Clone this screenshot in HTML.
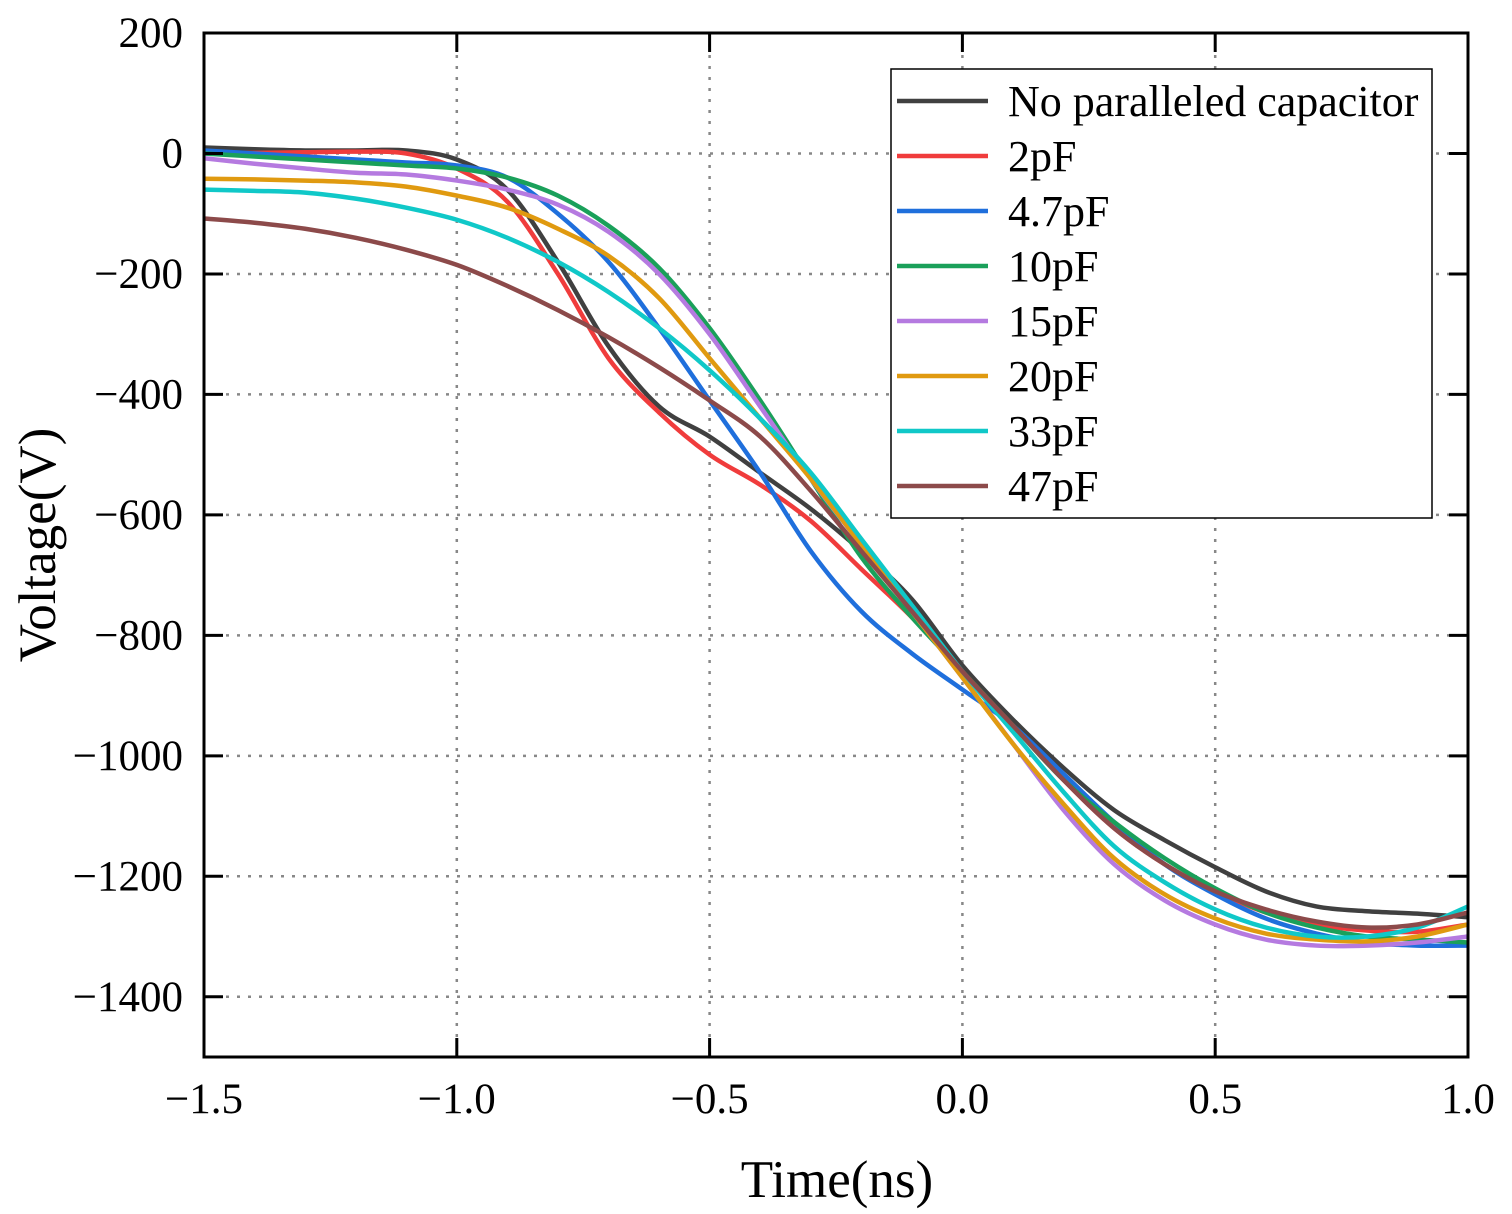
<!DOCTYPE html>
<html><head><meta charset="utf-8"><style>body{margin:0;background:#fff}svg{display:block}text{font-family:"Liberation Serif",serif;fill:#000}</style></head>
<body>
<svg id="chart" width="1512" height="1214" xmlns="http://www.w3.org/2000/svg">
<g id="grid"></g>
<g id="series"></g>
<g id="axes"></g>
<g id="legend"></g>
<text x="837" y="1197" font-size="53" text-anchor="middle">Time(ns)</text>
<text transform="translate(55,545) rotate(-90)" font-size="53" text-anchor="middle">Voltage(V)</text>
</svg>
<script>
const tValues=[-1.5,-1.4,-1.3,-1.2,-1.1,-1.0,-0.9,-0.8,-0.7,-0.6,-0.5,-0.4,-0.3,-0.2,-0.1,0,0.1,0.2,0.3,0.4,0.5,0.6,0.7,0.8,0.9,1.0];
const seriesNames=["No paralleled capacitor","2pF","4.7pF","10pF","15pF","20pF","33pF","47pF"];
const seriesColors=["#404040","#f03c3c","#1f6fdc","#1aa05a","#b57ae0","#e09a10","#10c8c8","#8c4a4a"];
const sNone=[10,7,5,5,5,-10,-60,-180,-320,-420,-470,-530,-590,-660,-740,-850,-940,-1020,-1090,-1140,-1185,-1225,-1250,-1258,-1262,-1268];
const s2pF=[0,1,2,3,0,-25,-80,-200,-340,-430,-500,-550,-610,-690,-770,-860,-950,-1040,-1120,-1180,-1225,-1260,-1280,-1290,-1292,-1280];
const s47pF_=[5,0,-5,-10,-15,-20,-40,-100,-180,-290,-410,-530,-660,-760,-830,-890,-950,-1030,-1110,-1180,-1230,-1270,-1295,-1310,-1315,-1315];
const s10pF=[0,-5,-10,-15,-20,-25,-40,-70,-120,-190,-290,-410,-540,-670,-770,-860,-950,-1040,-1110,-1170,-1220,-1260,-1285,-1300,-1305,-1310];
const s15pF=[-8,-17,-25,-32,-35,-45,-60,-85,-130,-200,-300,-420,-540,-650,-760,-870,-980,-1090,-1180,-1240,-1280,-1305,-1315,-1315,-1310,-1300];
const s20pF=[-42,-43,-45,-48,-55,-70,-90,-125,-170,-240,-340,-440,-540,-650,-760,-870,-980,-1080,-1170,-1230,-1270,-1295,-1305,-1308,-1300,-1280];
const s33pF=[-60,-62,-65,-75,-90,-110,-140,-180,-230,-290,-360,-440,-530,-640,-750,-860,-960,-1060,-1150,-1210,-1255,-1285,-1300,-1300,-1285,-1250];
const s47pF=[-108,-115,-125,-140,-160,-185,-220,-260,-305,-355,-410,-470,-560,-660,-760,-860,-950,-1040,-1120,-1180,-1225,-1255,-1275,-1285,-1280,-1260];
const xTicks=[-1.5,-1.0,-0.5,0.0,0.5,1.0];
const xTickLabels=["\u22121.5","\u22121.0","\u22120.5","0.0","0.5","1.0"];
const yTicks=[200,0,-200,-400,-600,-800,-1000,-1200,-1400];
const yTickLabels=["200","0","\u2212200","\u2212400","\u2212600","\u2212800","\u22121000","\u22121200","\u22121400"];
const allSeries=[sNone,s2pF,s47pF_,s10pF,s15pF,s20pF,s33pF,s47pF];

const L=204,R=1468,T=33,B=1057;
const X=v=>L+(v+1.5)/2.5*(R-L);
const Y=v=>T+(200-v)/1700*(B-T);
const NS="http://www.w3.org/2000/svg";
function mk(tag,attrs,parent){const e=document.createElementNS(NS,tag);for(const k in attrs)e.setAttribute(k,attrs[k]);parent.appendChild(e);return e;}
const grid=document.getElementById('grid'),axes=document.getElementById('axes'),ser=document.getElementById('series'),leg=document.getElementById('legend');
xTicks.forEach((t,i)=>{
  if(i>0&&i<xTicks.length-1){const g=mk('line',{x1:X(t),x2:X(t),y1:T,y2:B,stroke:'#888','stroke-width':2.5,'stroke-dasharray':'3 8'},grid);
  
  }
  mk('line',{x1:X(t),x2:X(t),y1:B,y2:B-19,stroke:'#000','stroke-width':3},axes);
  mk('line',{x1:X(t),x2:X(t),y1:T,y2:T+19,stroke:'#000','stroke-width':3},axes);
  const tx=mk('text',{x:X(t),y:1113,'font-size':43,'text-anchor':'middle'},axes);tx.textContent=xTickLabels[i];
  
  
});
yTicks.forEach((t,i)=>{
  if(i>0){const g=mk('line',{x1:L,x2:R,y1:Y(t),y2:Y(t),stroke:'#888','stroke-width':2.5,'stroke-dasharray':'3 8'},grid);
  
  }
  mk('line',{x1:L,x2:L+19,y1:Y(t),y2:Y(t),stroke:'#000','stroke-width':3},axes);
  mk('line',{x1:R,x2:R-19,y1:Y(t),y2:Y(t),stroke:'#000','stroke-width':3},axes);
  const tx=mk('text',{x:183,y:Y(t)+14,'font-size':43,'text-anchor':'end'},axes);tx.textContent=yTickLabels[i];
  
  
});
const fr=mk('rect',{x:L,y:T,width:R-L,height:B-T,fill:'none',stroke:'#000','stroke-width':3},axes);


function smooth(pts){let d=`M${pts[0][0]},${pts[0][1]}`;for(let i=0;i<pts.length-1;i++){const p0=pts[i-1]||pts[i],p1=pts[i],p2=pts[i+1],p3=pts[i+2]||p2;
 d+=` C${p1[0]+(p2[0]-p0[0])/6},${p1[1]+(p2[1]-p0[1])/6} ${p2[0]-(p3[0]-p1[0])/6},${p2[1]-(p3[1]-p1[1])/6} ${p2[0]},${p2[1]}`;}return d;}
allSeries.forEach((s,k)=>{
  const p=mk('path',{d:smooth(s.map((v,i)=>[X(tValues[i]),Y(v)])),fill:'none',stroke:seriesColors[k],'stroke-width':4.5},ser);
  
  
});
const lb=mk('rect',{x:891,y:69,width:541,height:449,fill:'#fff',stroke:'#000','stroke-width':1.5},leg);


seriesNames.forEach((n,k)=>{
  const y=101+k*55;
  const ln=mk('line',{x1:897,x2:988,y1:y,y2:y,stroke:seriesColors[k],'stroke-width':4.5},leg);
  
  
  const tx=mk('text',{x:1008,y:y+15,'font-size':44},leg);tx.textContent=n;
  
  
});
</script>
</body></html>
